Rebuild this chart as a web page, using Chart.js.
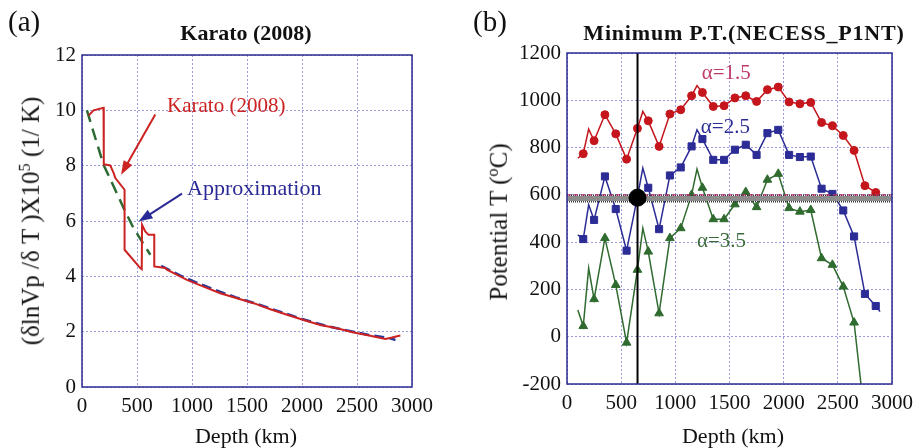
<!DOCTYPE html>
<html lang="en">
<head>
<meta charset="UTF-8">
<title>Karato (2008) / Minimum P.T.(NECESS_P1NT)</title>
<script src="https://cdn.jsdelivr.net/npm/chart.js"></script>
<style>
  body { margin: 0; background: #fff; font-family: "Liberation Serif", serif; color: #111; }
  #wrap { position: relative; width: 920px; height: 448px; overflow: hidden; }
  canvas { position: absolute; top: 0; }
  .txt { position: absolute; white-space: nowrap; line-height: 1; }
  .panel { font-size: 29px; top: 7px; }
  .title { font-size: 22px; font-weight: bold; top: 22px; transform: translateX(-50%); }
  .xlab { font-size: 22px; top: 425px; transform: translateX(-50%); }
  .ylab { transform: translate(-50%, -50%) rotate(-90deg); }
  sup { font-size: 65%; }
</style>
</head>
<body>
<div id="wrap">
  <canvas id="chartA" width="460" height="448" style="left:0"></canvas>
  <canvas id="chartB" width="460" height="448" style="left:460px"></canvas>

  <div class="txt panel" style="left:8px">(a)</div>
  <div class="txt title" style="left:246px">Karato (2008)</div>
  <div class="txt xlab" style="left:246px">Depth (km)</div>
  <div class="txt ylab" style="left:30px; top:221px; font-size:25px">(δlnVp /δ T )X10<sup>5</sup> (1/ K)</div>

  <div class="txt panel" style="left:473px">(b)</div>
  <div class="txt title" style="left:744px; letter-spacing:0.8px">Minimum P.T.(NECESS_P1NT)</div>
  <div class="txt xlab" style="left:733px">Depth (km)</div>
  <div class="txt ylab" style="left:498px; top:222px; font-size:25px">Potential T (<sup>o</sup>C)</div>
</div>

<script>
// ---- panel (a): Karato (2008) vs approximation ----
const karatoDepth = [60, 105, 196, 198, 212, 257, 288, 303, 387, 387, 530, 543, 546, 575, 605, 657, 657, 757, 772, 954, 1105, 1257, 1409, 1560, 1712, 1864, 2015, 2166, 2318, 2469, 2621, 2757, 2818, 2894];
const karatoVal   = [9.81, 10.0, 10.09, 8.04, 8.04, 8.01, 7.73, 7.55, 7.13, 4.96, 4.30, 4.26, 5.86, 5.62, 5.50, 5.50, 4.36, 4.30, 4.24, 3.87, 3.63, 3.39, 3.21, 3.03, 2.81, 2.61, 2.42, 2.24, 2.12, 1.97, 1.85, 1.74, 1.79, 1.86];

const approxUpperDepth = [45, 121, 196, 288, 378, 469, 621];
const approxUpperVal   = [10.0, 9.0, 8.03, 7.25, 6.47, 5.74, 4.78];

const approxLowerDepth = [720, 800, 900, 1000, 1200, 1400, 1600, 1800, 2000, 2200, 2400, 2600, 2800, 2850];
const approxLowerVal   = [4.38, 4.22, 4.02, 3.84, 3.52, 3.24, 2.99, 2.72, 2.46, 2.23, 2.05, 1.89, 1.76, 1.70];

// ---- panel (b): minimum potential temperature ----
const a15Depth = [100, 150, 200, 250, 350, 450, 550, 650, 700, 750, 850, 950, 1050, 1150, 1200, 1250, 1350, 1450, 1550, 1650, 1750, 1850, 1950, 2050, 2150, 2250, 2350, 2450, 2550, 2650, 2750, 2850];
const a15T     = [755, 774, 878, 829, 939, 858, 751, 881, 953, 913, 805, 942, 960, 1019, 1062, 1033, 974, 977, 1010, 1019, 995, 1045, 1056, 993, 985, 991, 906, 892, 851, 788, 639, 610];

const a25Depth = [100, 150, 200, 250, 350, 450, 550, 650, 700, 750, 850, 950, 1050, 1150, 1200, 1250, 1350, 1450, 1550, 1650, 1750, 1850, 1950, 2050, 2150, 2250, 2350, 2450, 2550, 2650, 2750, 2850, 2890];
const a25T     = [431, 413, 558, 494, 678, 540, 364, 590, 713, 630, 455, 682, 716, 805, 875, 836, 748, 748, 791, 812, 769, 861, 875, 769, 760, 762, 626, 604, 534, 424, 181, 130, 106];

const a35Depth = [100, 150, 200, 250, 350, 450, 550, 650, 700, 750, 850, 950, 1050, 1150, 1200, 1250, 1350, 1450, 1550, 1650, 1750, 1850, 1950, 2050, 2150, 2250, 2350, 2450, 2550, 2650, 2750];
const a35T     = [113, 45, 290, 159, 417, 219, -25, 283, 459, 360, 99, 417, 459, 600, 709, 630, 497, 497, 560, 612, 548, 664, 689, 544, 529, 536, 332, 304, 212, 60, -350];

const necessDepth = 651;   // vertical marker line
const necessT = 588;       // black dot
const refLevel = 600;      // dashed reference
const bandLevel = 585;     // grey band

const xTicks = [0, 500, 1000, 1500, 2000, 2500, 3000];

const pts = (xs, ys) => xs.map((x, i) => ({ x: x, y: ys[i] }));

const tickFont = { family: '"Liberation Serif", serif', size: 21 };
const gridCol = 'rgba(120,120,210,0.75)';
const frameCol = '#2b2b8f';

// frame, text notes and arrows in data coordinates
const deco = {
  id: 'deco',
  afterDatasetsDraw(chart, args, opts) {
    const { ctx, chartArea: a, scales: { x, y } } = chart;
    ctx.save();
    ctx.strokeStyle = frameCol;
    ctx.lineWidth = 1.5;
    ctx.strokeRect(a.left, a.top, a.right - a.left, a.bottom - a.top);
    (opts.notes || []).forEach(n => {
      ctx.font = n.size + 'px "Liberation Serif", serif';
      ctx.fillStyle = n.color;
      ctx.textAlign = 'left';
      ctx.textBaseline = 'middle';
      ctx.fillText(n.text, x.getPixelForValue(n.x), y.getPixelForValue(n.y));
    });
    (opts.arrows || []).forEach(ar => {
      const x0 = x.getPixelForValue(ar.from[0]), y0 = y.getPixelForValue(ar.from[1]);
      const x1 = x.getPixelForValue(ar.to[0]), y1 = y.getPixelForValue(ar.to[1]);
      const ang = Math.atan2(y1 - y0, x1 - x0);
      ctx.strokeStyle = ar.color;
      ctx.fillStyle = ar.color;
      ctx.lineWidth = 2;
      ctx.beginPath();
      ctx.moveTo(x0, y0);
      ctx.lineTo(x1 - 10 * Math.cos(ang), y1 - 10 * Math.sin(ang));
      ctx.stroke();
      ctx.beginPath();
      ctx.moveTo(x1, y1);
      ctx.lineTo(x1 - 14 * Math.cos(ang) + 5 * Math.sin(ang), y1 - 14 * Math.sin(ang) - 5 * Math.cos(ang));
      ctx.lineTo(x1 - 14 * Math.cos(ang) - 5 * Math.sin(ang), y1 - 14 * Math.sin(ang) + 5 * Math.cos(ang));
      ctx.closePath();
      ctx.fill();
    });
    ctx.restore();
  }
};

function axes(yMin, yMax, yStep, yWidth, xHeight) {
  const grid = { color: gridCol, lineWidth: 1, drawTicks: false };
  const border = { display: false, dash: [2, 2] };
  const plain = v => String(v);
  return {
    x: {
      type: 'linear', min: 0, max: 3000,
      afterBuildTicks: s => { s.ticks = xTicks.map(v => ({ value: v })); },
      afterFit: s => { s.height = xHeight; },
      grid: grid, border: border,
      ticks: { font: tickFont, color: '#111', padding: 7, maxRotation: 0, callback: plain }
    },
    y: {
      type: 'linear', min: yMin, max: yMax,
      afterFit: s => { s.width = yWidth; },
      grid: grid, border: border,
      ticks: { stepSize: yStep, font: tickFont, color: '#111', padding: 6, callback: plain }
    }
  };
}

const common = {
  responsive: false,
  animation: false,
  plugins: { legend: { display: false }, tooltip: { enabled: false } },
  elements: { line: { tension: 0 } }
};

new Chart(document.getElementById('chartA'), {
  type: 'scatter',
  data: {
    datasets: [
      { data: pts(karatoDepth, karatoVal), showLine: true, borderColor: '#cc2222', borderWidth: 2, pointRadius: 0 },
      { data: pts(approxLowerDepth, approxLowerVal), showLine: true, borderColor: '#2a3a9a', borderWidth: 2.5, borderDash: [10, 5], pointRadius: 0 },
      { data: pts(approxUpperDepth, approxUpperVal), showLine: true, borderColor: '#2e6b34', borderWidth: 2.5, borderDash: [12, 7], pointRadius: 0 }
    ]
  },
  options: Object.assign({}, common, {
    layout: { padding: { left: 0, right: 48, top: 55, bottom: 0 } },
    scales: axes(0, 12, 2, 82, 61),
    plugins: Object.assign({}, common.plugins, {
      deco: {
        notes: [
          { text: 'Karato (2008)', x: 773, y: 10.15, color: '#cc2222', size: 21 },
          { text: 'Approximation', x: 955, y: 7.16, color: '#2a2a96', size: 22 }
        ],
        arrows: [
          { from: [666, 9.85], to: [355, 7.67], color: '#cc2222' },
          { from: [909, 6.99], to: [515, 5.98], color: '#2a2a96' }
        ]
      }
    })
  }),
  plugins: [deco]
});

// marker only on the x50 km samples, the others are plain line vertices
const markAt = r => c => (c.raw && c.raw.x % 100 === 50) ? r : 0;

function series(xs, ys, color, style, r) {
  return {
    data: pts(xs, ys), showLine: true, borderColor: color, backgroundColor: color,
    borderWidth: 1.5, pointStyle: style, pointRadius: markAt(r), pointBorderWidth: 1
  };
}

new Chart(document.getElementById('chartB'), {
  type: 'scatter',
  data: {
    datasets: [
      { data: [{ x: necessDepth, y: necessT }], pointRadius: 8.5, backgroundColor: '#000', borderColor: '#000' },
      { data: [{ x: necessDepth, y: -200 }, { x: necessDepth, y: 1200 }], showLine: true, borderColor: '#000', borderWidth: 2, pointRadius: 0 },
      { data: [{ x: 0, y: refLevel }, { x: 3000, y: refLevel }], showLine: true, borderColor: '#c0306a', borderWidth: 1.3, borderDash: [4, 3], pointRadius: 0 },
      { data: [{ x: 0, y: bandLevel }, { x: 3000, y: bandLevel }], showLine: true, borderColor: '#8c8c8c', borderWidth: 5, pointRadius: 0 },
      { data: [{ x: 0, y: bandLevel }, { x: 3000, y: bandLevel }], showLine: true, borderColor: '#333', borderWidth: 8, borderDash: [1, 1], pointRadius: 0 },
      series(a15Depth, a15T, '#c4161c', 'circle', 4),
      series(a25Depth, a25T, '#2c2c96', 'rect', 5),
      series(a35Depth, a35T, '#2f6a2f', 'triangle', 5)
    ]
  },
  options: Object.assign({}, common, {
    layout: { padding: { left: 0, right: 21, top: 53, bottom: 0 } },
    scales: axes(-200, 1200, 200, 107, 64),
    plugins: Object.assign({}, common.plugins, {
      deco: {
        notes: [
          { text: 'α=1.5', x: 1244, y: 1115, color: '#c03a6a', size: 21 },
          { text: 'α=2.5', x: 1235, y: 887, color: '#2c2c96', size: 21 },
          { text: 'α=3.5', x: 1199, y: 402, color: '#3b6b3b', size: 21 }
        ]
      }
    })
  }),
  plugins: [deco]
});
</script>
</body>
</html>
